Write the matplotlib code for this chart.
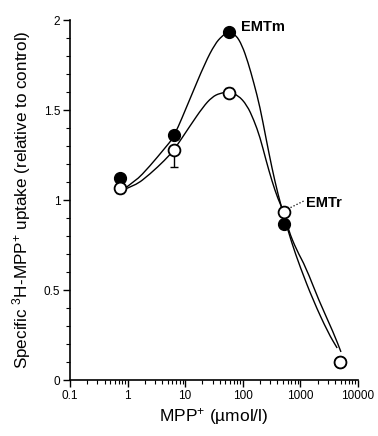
import numpy as np
import matplotlib
matplotlib.use("Agg")
from matplotlib import pyplot as plt
from matplotlib.path import Path
from matplotlib.patches import PathPatch
from matplotlib.ticker import LogLocator, NullFormatter

plt.rcParams['font.family'] = ['Liberation Sans', 'DejaVu Sans']
plt.rcParams['mathtext.fontset'] = 'custom'
plt.rcParams['mathtext.rm'] = 'Liberation Sans'
plt.rcParams['mathtext.it'] = 'Liberation Sans'

# measured points
conc = [0.75, 6.5, 58, 520, 4800]
emtm = [1.12, 1.36, 1.935, 0.865, 0.10]
emtr = [1.067, 1.278, 1.594, 0.933, 0.10]
emtr_err_lo = [0.03, 0.095, 0.0, 0.0, 0.0]
emtr_err_hi = [0.0, 0.0, 0.03, 0.03, 0.0]

# fitted curves
emtm_curve_x = [0.80, 1.34, 2.45, 4.46, 6.4, 12.1, 22.1, 32.9, 43.5, 57.6, 76.2,
                96.9, 123, 156, 199, 253, 321, 408, 530, 700, 990, 1660, 3050, 4350]
emtm_curve_y = [1.056, 1.100, 1.189, 1.289, 1.350, 1.561, 1.761, 1.867, 1.911, 1.939, 1.917,
                1.861, 1.767, 1.650, 1.517, 1.344, 1.178, 1.033, 0.900, 0.767, 0.628, 0.444, 0.261, 0.178]
emtr_curve_x = [0.80, 1.34, 2.45, 4.46, 6.4, 12.1, 20.4, 29.2, 40.2, 57.6, 82.6,
                118, 156, 199, 253, 321, 408, 519, 620, 860, 1240, 2080, 3780, 5070]
emtr_curve_y = [1.056, 1.078, 1.144, 1.222, 1.278, 1.411, 1.517, 1.572, 1.594, 1.600, 1.583,
                1.528, 1.444, 1.350, 1.222, 1.106, 1.006, 0.933, 0.833, 0.722, 0.628, 0.444, 0.261, 0.156]


def smooth_path(xs, ys):
    # quadratic bezier: read points act as control points, joins at midpoints
    verts = [(xs[0], ys[0])]
    codes = [Path.MOVETO]
    for i in range(1, len(xs) - 1):
        mx = np.sqrt(xs[i] * xs[i + 1])
        my = (ys[i] + ys[i + 1]) / 2
        verts += [(xs[i], ys[i]), (mx, my)]
        codes += [Path.CURVE3, Path.CURVE3]
    verts.append((xs[-1], ys[-1]))
    codes.append(Path.LINETO)
    return Path(verts, codes)


fig = plt.figure(figsize=(3.78, 4.36), dpi=100)
ax = fig.add_axes([0.185, 0.1284, 0.762, 0.8256])

for cx, cy in [(emtm_curve_x, emtm_curve_y), (emtr_curve_x, emtr_curve_y)]:
    ax.add_patch(PathPatch(smooth_path(cx, cy), facecolor='none', edgecolor='black',
                           lw=1.0, zorder=2))

ax.errorbar(conc, emtr, yerr=[emtr_err_lo, emtr_err_hi], fmt='none', ecolor='black',
            elinewidth=1.0, capsize=3, capthick=1.0, zorder=3)
ax.plot(conc, emtm, 'o', color='black', markersize=8.5, zorder=4)
ax.plot(conc, emtr, 'o', markerfacecolor='white', markeredgecolor='black',
        markeredgewidth=1.3, markersize=8.5, zorder=5)

ax.text(95, 1.96, 'EMTm', fontsize=10.5, fontweight='bold', ha='left', va='center')
ax.text(1250, 0.985, 'EMTr', fontsize=10.5, fontweight='bold', ha='left', va='center')
ax.plot([600, 1150], [0.95, 0.995], ls=':', color='black', lw=0.9)

ax.set_xscale('log')
ax.set_xlim(0.1, 10000)
ax.set_ylim(0, 2)
ax.set_xticks([0.1, 1, 10, 100, 1000, 10000])
ax.set_xticklabels(['0.1', '1', '10', '100', '1000', '10000'])
ax.xaxis.set_minor_locator(LogLocator(base=10, subs=np.arange(2, 10), numticks=20))
ax.xaxis.set_minor_formatter(NullFormatter())
ax.set_yticks([0, 0.5, 1, 1.5, 2])
ax.set_yticklabels(['0', '0.5', '1', '1.5', '2'])
ax.set_yticks(np.arange(0, 2.01, 0.1), minor=True)
ax.tick_params(which='major', direction='out', length=5, width=1, labelsize=8.5, pad=2)
ax.tick_params(which='minor', direction='out', length=3, width=0.8)

for s in ['top', 'right']:
    ax.spines[s].set_visible(False)
for s in ['left', 'bottom']:
    ax.spines[s].set_linewidth(1.2)

ax.set_xlabel(r'MPP$^{+}$ (µmol/l)', fontsize=12.5, labelpad=3)
ax.set_ylabel(r'Specific $^{3}$H-MPP$^{+}$ uptake (relative to control)', fontsize=12.3, labelpad=8)

fig.savefig('out.png', dpi=100)
